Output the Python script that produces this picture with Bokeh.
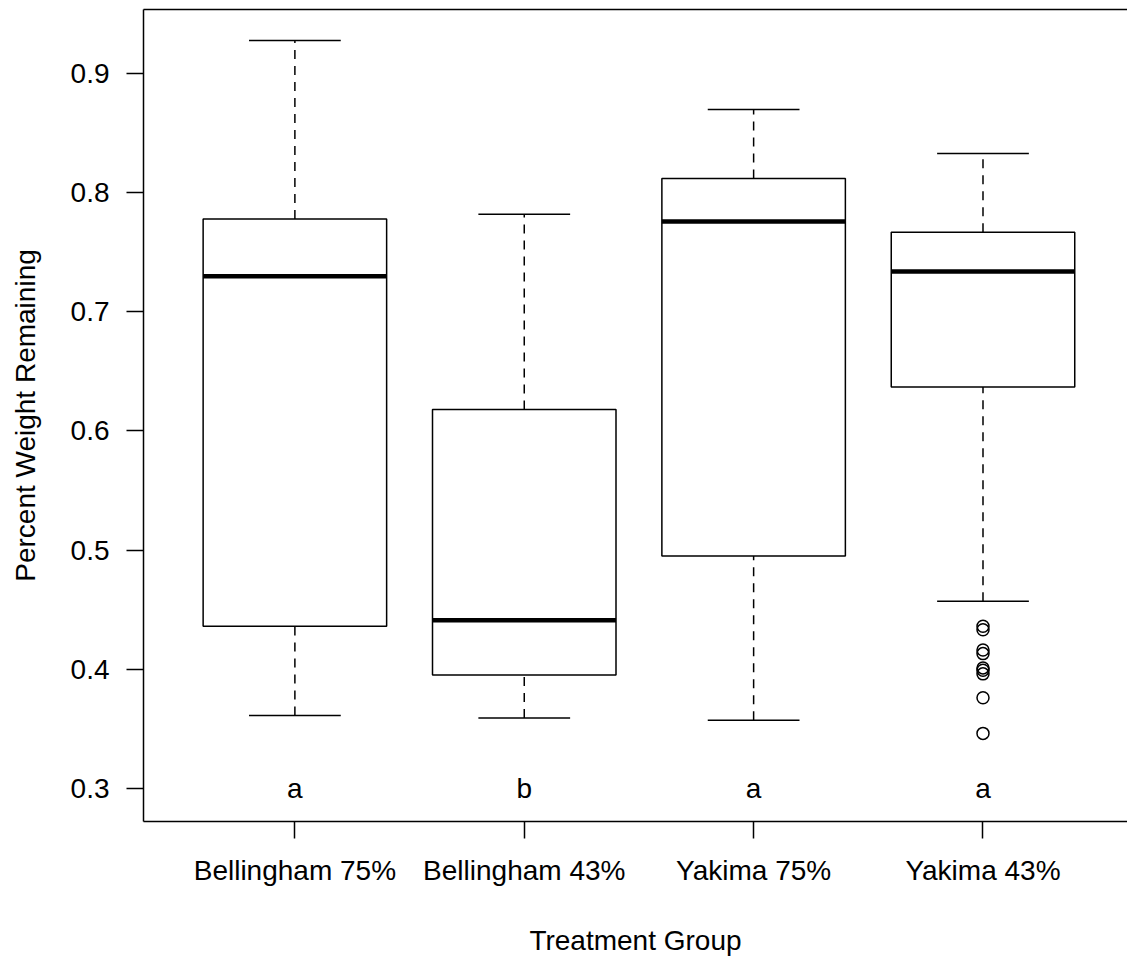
from bokeh.plotting import figure
from bokeh.models import Range1d, LinearAxis, FixedTicker, ColumnDataSource
from bokeh.core.properties import value
from bokeh.embed import file_html
from bokeh.resources import INLINE

groups = ["Bellingham 75%", "Bellingham 43%", "Yakima 75%", "Yakima 43%"]
whisker_low = [0.361, 0.359, 0.357, 0.457]
q1 = [0.436, 0.395, 0.495, 0.637]
median = [0.730, 0.441, 0.776, 0.734]
q3 = [0.778, 0.618, 0.812, 0.767]
whisker_high = [0.928, 0.782, 0.870, 0.833]
letters = ["a", "b", "a", "a"]
outlier_group = [4, 4, 4, 4, 4, 4, 4, 4, 4]
outlier_values = [0.436, 0.433, 0.416, 0.413, 0.401, 0.399, 0.396, 0.376, 0.346]

FONT = "Liberation Sans"
FS = "28px"
xs = list(range(1, len(groups) + 1))
half = 0.4
cap = 0.2

p = figure(width=1127, height=958, output_backend="svg", toolbar_location=None,
           x_range=Range1d(0.34, 4.63), y_range=Range1d(0.272, 0.954),
           min_border_left=143, min_border_right=0, min_border_top=9, min_border_bottom=135)
p.grid.visible = False
p.outline_line_color = None
p.background_fill_color = "white"
p.border_fill_color = "white"

src = ColumnDataSource(dict(
    x=xs, left=[x - half for x in xs], right=[x + half for x in xs],
    cl=[x - cap for x in xs], cr=[x + cap for x in xs],
    lo=whisker_low, q1=q1, med=median, q3=q3, hi=whisker_high, lab=letters,
    base=[0.3] * len(xs)))

# whiskers (dashed)
p.segment(x0="x", y0="q3", x1="x", y1="hi", source=src, line_color="black",
          line_width=1.5, line_dash="9 7")
p.segment(x0="x", y0="lo", x1="x", y1="q1", source=src, line_color="black",
          line_width=1.5, line_dash="9 7")
# caps
p.segment(x0="cl", y0="hi", x1="cr", y1="hi", source=src, line_color="black", line_width=1.5)
p.segment(x0="cl", y0="lo", x1="cr", y1="lo", source=src, line_color="black", line_width=1.5)
# boxes
p.quad(left="left", right="right", bottom="q1", top="q3", source=src,
       fill_color="white", line_color="black", line_width=1.5)
# medians
p.segment(x0="left", y0="med", x1="right", y1="med", source=src, line_color="black", line_width=4.5)
# outliers
p.scatter(x=outlier_group, y=outlier_values, marker="circle", size=12,
          fill_color=None, line_color="black", line_width=1.5)
# group letters
p.text(x="x", y="base", text="lab", source=src, text_align="center", text_baseline="middle",
       text_font=value(FONT), text_font_size=FS, text_color="black")

# x axis
xa = p.xaxis[0]
xa.ticker = FixedTicker(ticks=xs)
xa.major_label_overrides = {x: g for x, g in zip(xs, groups)}
xa.axis_label = "Treatment Group"
# y axis
ya = p.yaxis[0]
ya.ticker = FixedTicker(ticks=[0.3, 0.4, 0.5, 0.6, 0.7, 0.8, 0.9])
ya.axis_label = "Percent Weight Remaining"

for ax in (xa, ya):
    ax.major_tick_out = 17
    ax.major_tick_in = 0
    ax.minor_tick_line_color = None
    ax.axis_line_width = 1.5
    ax.axis_line_color = "black"
    ax.major_tick_line_width = 1.5
    ax.major_tick_line_color = "black"
    ax.major_label_text_font = FONT
    ax.major_label_text_font_size = FS
    ax.major_label_text_color = "black"
    ax.axis_label_text_font = FONT
    ax.axis_label_text_font_size = FS
    ax.axis_label_text_font_style = "normal"
    ax.axis_label_text_color = "black"

xa.major_label_standoff = 16
xa.axis_label_standoff = 36
ya.major_label_standoff = 17
ya.major_label_orientation = "horizontal"
ya.axis_label_standoff = 27

# top border line
top = LinearAxis(ticker=FixedTicker(ticks=[]), major_tick_out=0, major_tick_in=0,
                 minor_tick_line_color=None, axis_line_width=1.5, axis_line_color="black",
                 major_label_text_font_size="0px")
p.add_layout(top, "above")

open("out.html", "w").write(file_html(p, INLINE))
